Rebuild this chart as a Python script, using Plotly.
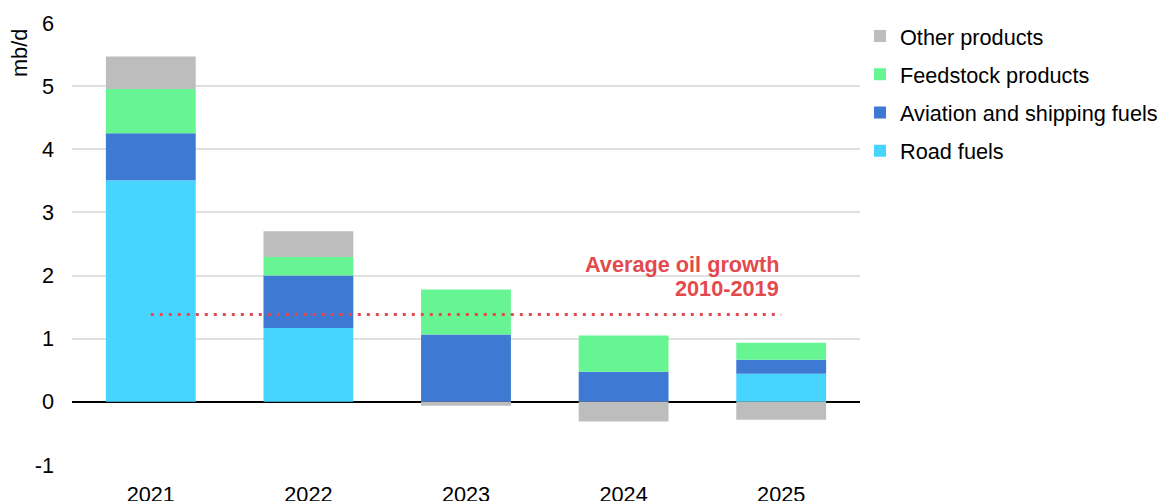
import plotly.graph_objects as go

years = ["2021", "2022", "2023", "2024", "2025"]
road = [3.51, 1.17, 0.0, 0.0, 0.445]
aviation = [0.745, 0.83, 1.065, 0.475, 0.22]
feedstock = [0.70, 0.295, 0.715, 0.575, 0.27]
other = [0.515, 0.405, -0.06, -0.31, -0.285]
avg_growth = 1.385
avg_label_lines = ["Average oil growth", "2010-2019"]
y_ticks = [-1, 0, 1, 2, 3, 4, 5, 6]
y_tick_text = ["-1", "0", "1", "2", "3", "4", "5", "6"]

series = [
    ("Road fuels", road, "#47d4fe", 4),
    ("Aviation and shipping fuels", aviation, "#3e79d3", 3),
    ("Feedstock products", feedstock, "#67f594", 2),
    ("Other products", other, "#bdbdbd", 1),
]

FONT = "Arial, Liberation Sans, sans-serif"
FS = 21.7
RED = "#e34a4e"

fig = go.Figure()
for name, vals, col, rank in series:
    fig.add_trace(go.Bar(
        x=years, y=vals, name=name, legendgroup=name, legendrank=rank,
        marker=dict(color=col, line=dict(width=0)),
    ))

fig.add_trace(go.Scatter(
    x=years, y=[avg_growth] * len(years), mode="lines",
    line=dict(color=RED, width=3, dash="3px,6px"),
    showlegend=False, hoverinfo="skip",
))

for line_text, yy in zip(avg_label_lines, [2.17, 1.79]):
    fig.add_annotation(
        x=len(years) - 1, y=yy, xref="x", yref="y", text=line_text,
        xanchor="right", yanchor="middle", align="right", showarrow=False,
        font=dict(family=FONT, size=FS, color=RED, weight="bold"),
    )
fig.add_annotation(
    x=(20 - 72) / 788, y=(501 - 36 - 53) / (501 - 59), xref="paper", yref="paper",
    text="mb/d", textangle=-90, xanchor="center", yanchor="middle",
    showarrow=False, font=dict(family=FONT, size=FS, color="#000"),
)

fig.update_layout(
    width=1160, height=501,
    margin=dict(l=72, r=300, t=23, b=36),
    barmode="relative", bargap=0.43,
    plot_bgcolor="white", paper_bgcolor="white",
    font=dict(family=FONT, size=FS, color="#000"),
    legend=dict(
        xref="container", yref="container",
        x=860 / 1160, y=1 - 15.5 / 501, xanchor="left", yanchor="top",
        traceorder="grouped", tracegroupgap=7,
        font=dict(family=FONT, size=FS, color="#000"),
        itemwidth=30,
    ),
    xaxis=dict(type="category", showgrid=False, showline=False, ticks="",
               ticklabelstandoff=14, automargin=False),
    yaxis=dict(
        range=[-1, 6], tickvals=y_ticks, ticktext=y_tick_text,
        showgrid=True, gridcolor="#e0e0e0", gridwidth=1.5,
        zeroline=True, zerolinecolor="#000", zerolinewidth=1.5,
        ticks="", ticklabelstandoff=17, showline=False, automargin=False,
    ),
)

fig.write_html(
    "out.html",
    config={"displayModeBar": False},
    post_script="document.body.style.margin='0px';document.body.style.overflow='hidden';",
)
